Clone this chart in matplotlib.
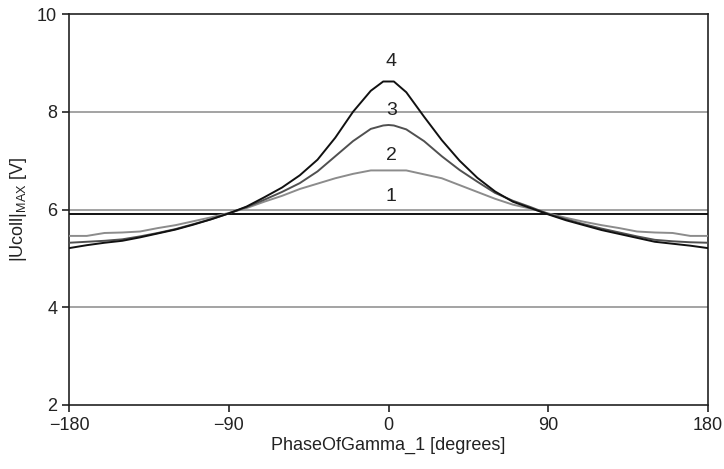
import matplotlib
matplotlib.use("Agg")
import matplotlib.pyplot as plt

plt.rcParams['font.family'] = ['Liberation Sans', 'DejaVu Sans']
plt.rcParams['mathtext.default'] = 'regular'

# phase of gamma_1 in degrees
phase = [-180, -170, -160, -150, -140, -130, -120, -110, -100, -90,
         -80, -70, -60, -50, -40, -30, -20, -10, -3, 0, 3,
         10, 20, 30, 40, 50, 60, 70, 80, 90,
         100, 110, 120, 130, 140, 150, 160, 170, 180]

curve_1 = [5.9] * len(phase)

curve_2 = [5.46, 5.46, 5.52, 5.53, 5.55, 5.62, 5.68, 5.76, 5.84, 5.93,
           6.03, 6.16, 6.28, 6.42, 6.53, 6.64, 6.73, 6.80, 6.80, 6.80, 6.80,
           6.80, 6.72, 6.64, 6.50, 6.36, 6.22, 6.10, 6.02, 5.92,
           5.83, 5.75, 5.68, 5.62, 5.55, 5.53, 5.52, 5.46, 5.46]

curve_3 = [5.32, 5.34, 5.36, 5.39, 5.45, 5.52, 5.60, 5.70, 5.80, 5.92,
           6.05, 6.20, 6.36, 6.54, 6.78, 7.09, 7.40, 7.65, 7.72, 7.73, 7.72,
           7.64, 7.40, 7.09, 6.81, 6.57, 6.34, 6.18, 6.05, 5.91,
           5.80, 5.70, 5.61, 5.53, 5.45, 5.38, 5.35, 5.33, 5.32]

curve_4 = [5.21, 5.27, 5.32, 5.36, 5.43, 5.51, 5.59, 5.69, 5.80, 5.92,
           6.06, 6.25, 6.45, 6.70, 7.02, 7.47, 8.00, 8.43, 8.62, 8.62, 8.62,
           8.40, 7.90, 7.42, 7.00, 6.65, 6.37, 6.16, 6.03, 5.90,
           5.78, 5.68, 5.58, 5.50, 5.42, 5.34, 5.30, 5.26, 5.21]

curve_labels = ['1', '2', '3', '4']
label_y = [6.26, 7.10, 8.02, 9.02]

fig = plt.figure(figsize=(7.24, 4.69), dpi=100)
ax = fig.add_axes([0.0953, 0.1365, 0.8827, 0.8335])

for yg in [4, 6, 8]:
    ax.axhline(yg, color='#8a8a8a', lw=1.1, zorder=1)

ax.plot(phase, curve_1, color='#111111', lw=1.4, zorder=3)
ax.plot(phase, curve_2, color='#8c8c8c', lw=1.4, zorder=3)
ax.plot(phase, curve_3, color='#505050', lw=1.4, zorder=3)
ax.plot(phase, curve_4, color='#111111', lw=1.4, zorder=4)

for lab, yl in zip(curve_labels, label_y):
    ax.text(1.5, yl, lab, ha='center', va='center', fontsize=14, color='#222222')

ax.set_xlim(-180, 180)
ax.set_ylim(2, 10)
ax.set_xticks([-180, -90, 0, 90, 180])
ax.set_xticklabels(['\u2212180', '\u221290', '0', '90', '180'])
ax.set_yticks([2, 4, 6, 8, 10])
ax.tick_params(axis='both', direction='out', length=5, width=1.2, labelsize=13,
               colors='#222222')
for s in ax.spines.values():
    s.set_linewidth(1.2)
    s.set_color('#222222')

ax.set_xlabel('PhaseOfGamma_1 [degrees]', fontsize=13, color='#222222', labelpad=2)
ax.set_ylabel('|Ucoll|$_{MAX}$ [V]', fontsize=13, color='#222222', labelpad=6)

fig.savefig('out.png', dpi=100)
